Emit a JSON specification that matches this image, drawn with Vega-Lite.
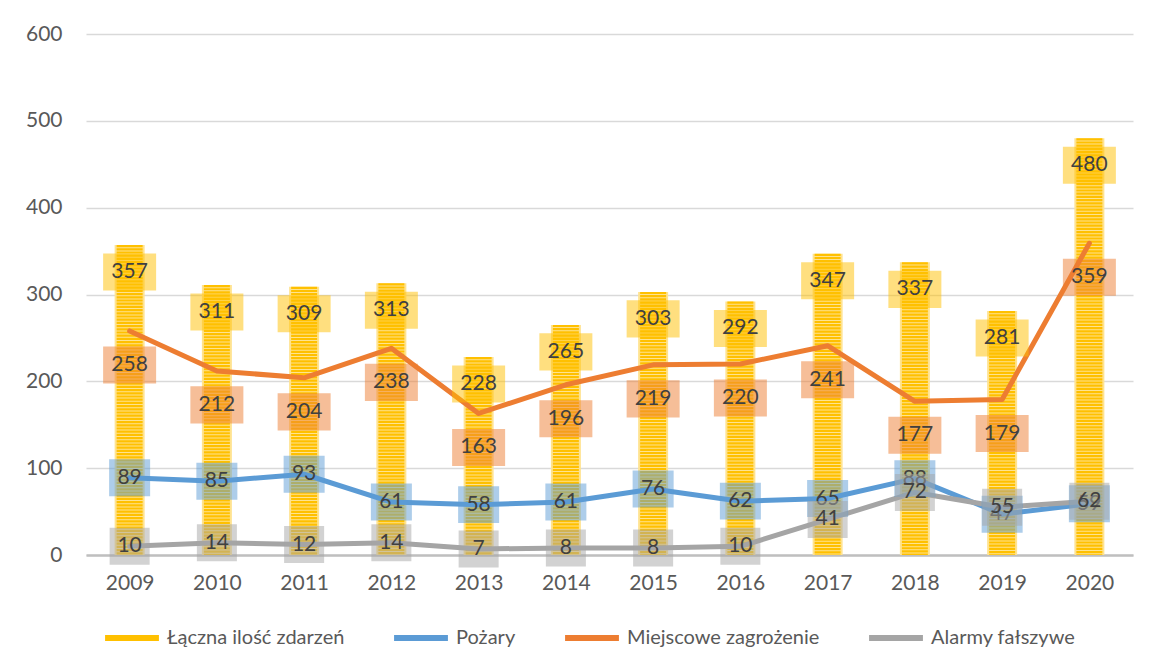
{
  "$schema": "https://vega.github.io/schema/vega-lite/v6.json",
  "width": 1047,
  "height": 521,
  "autosize": {"type": "none"},
  "padding": {"left": 86, "top": 34, "right": 23, "bottom": 117},
  "background": "white",
  "config": {
    "view": {"stroke": null},
    "font": "Lato",
    "axis": {"labelFont": "Lato", "labelFontSize": 21, "labelColor": "#595959"}
  },
  "data": {
    "values": [
      {"year": "2009", "series": "Łączna ilość zdarzeń", "value": 357},
      {"year": "2010", "series": "Łączna ilość zdarzeń", "value": 311},
      {"year": "2011", "series": "Łączna ilość zdarzeń", "value": 309},
      {"year": "2012", "series": "Łączna ilość zdarzeń", "value": 313},
      {"year": "2013", "series": "Łączna ilość zdarzeń", "value": 228},
      {"year": "2014", "series": "Łączna ilość zdarzeń", "value": 265},
      {"year": "2015", "series": "Łączna ilość zdarzeń", "value": 303},
      {"year": "2016", "series": "Łączna ilość zdarzeń", "value": 292},
      {"year": "2017", "series": "Łączna ilość zdarzeń", "value": 347},
      {"year": "2018", "series": "Łączna ilość zdarzeń", "value": 337},
      {"year": "2019", "series": "Łączna ilość zdarzeń", "value": 281},
      {"year": "2020", "series": "Łączna ilość zdarzeń", "value": 480},
      {"year": "2009", "series": "Pożary", "value": 89},
      {"year": "2010", "series": "Pożary", "value": 85},
      {"year": "2011", "series": "Pożary", "value": 93},
      {"year": "2012", "series": "Pożary", "value": 61},
      {"year": "2013", "series": "Pożary", "value": 58},
      {"year": "2014", "series": "Pożary", "value": 61},
      {"year": "2015", "series": "Pożary", "value": 76},
      {"year": "2016", "series": "Pożary", "value": 62},
      {"year": "2017", "series": "Pożary", "value": 65},
      {"year": "2018", "series": "Pożary", "value": 88},
      {"year": "2019", "series": "Pożary", "value": 47},
      {"year": "2020", "series": "Pożary", "value": 59},
      {"year": "2009", "series": "Miejscowe zagrożenie", "value": 258},
      {"year": "2010", "series": "Miejscowe zagrożenie", "value": 212},
      {"year": "2011", "series": "Miejscowe zagrożenie", "value": 204},
      {"year": "2012", "series": "Miejscowe zagrożenie", "value": 238},
      {"year": "2013", "series": "Miejscowe zagrożenie", "value": 163},
      {"year": "2014", "series": "Miejscowe zagrożenie", "value": 196},
      {"year": "2015", "series": "Miejscowe zagrożenie", "value": 219},
      {"year": "2016", "series": "Miejscowe zagrożenie", "value": 220},
      {"year": "2017", "series": "Miejscowe zagrożenie", "value": 241},
      {"year": "2018", "series": "Miejscowe zagrożenie", "value": 177},
      {"year": "2019", "series": "Miejscowe zagrożenie", "value": 179},
      {"year": "2020", "series": "Miejscowe zagrożenie", "value": 359},
      {"year": "2009", "series": "Alarmy fałszywe", "value": 10},
      {"year": "2010", "series": "Alarmy fałszywe", "value": 14},
      {"year": "2011", "series": "Alarmy fałszywe", "value": 12},
      {"year": "2012", "series": "Alarmy fałszywe", "value": 14},
      {"year": "2013", "series": "Alarmy fałszywe", "value": 7},
      {"year": "2014", "series": "Alarmy fałszywe", "value": 8},
      {"year": "2015", "series": "Alarmy fałszywe", "value": 8},
      {"year": "2016", "series": "Alarmy fałszywe", "value": 10},
      {"year": "2017", "series": "Alarmy fałszywe", "value": 41},
      {"year": "2018", "series": "Alarmy fałszywe", "value": 72},
      {"year": "2019", "series": "Alarmy fałszywe", "value": 55},
      {"year": "2020", "series": "Alarmy fałszywe", "value": 62}
    ]
  },
  "encoding": {
    "x": {
      "field": "year", "type": "ordinal",
      "scale": {"type": "point", "padding": 0.5},
      "axis": {"title": null, "labelAngle": 0, "ticks": false, "domainColor": "#BFBFBF", "domainWidth": 2.5, "labelPadding": 17}
    },
    "y": {
      "field": "value", "type": "quantitative",
      "scale": {"domain": [0, 600], "nice": false},
      "axis": {"title": null, "values": [0, 100, 200, 300, 400, 500, 600], "ticks": false, "domain": false, "gridColor": "#D9D9D9", "gridWidth": 1.5, "labelPadding": 24}
    }
  },
  "layer": [
    {
      "transform": [{"filter": "datum.series === 'Łączna ilość zdarzeń'"}],
      "mark": {"type": "bar", "width": 30, "color": "#FFE38F"}
    },
    {
      "transform": [{"filter": "datum.series === 'Łączna ilość zdarzeń'"}],
      "mark": {"type": "rule", "strokeWidth": 26, "color": "#FFC000", "strokeDash": [2.2, 1]},
      "encoding": {"y2": {"datum": 0}}
    },
    {
      "transform": [{"filter": "datum.series !== 'Łączna ilość zdarzeń'"}],
      "mark": {"type": "line", "strokeWidth": 5, "strokeCap": "round", "strokeJoin": "round"},
      "encoding": {
        "color": {
          "field": "series", "type": "nominal",
          "scale": {
            "domain": ["Łączna ilość zdarzeń", "Pożary", "Miejscowe zagrożenie", "Alarmy fałszywe"],
            "range": ["#FFC000", "#5B9BD5", "#ED7D31", "#A5A5A5"]
          },
          "legend": {
            "title": null,
            "orient": "none",
            "legendX": 16,
            "legendY": 574,
            "direction": "horizontal",
            "columnPadding": 37,
            "symbolType": "stroke",
            "symbolSize": 2900,
            "symbolStrokeWidth": 6,
            "labelFont": "Lato",
            "labelFontSize": 20,
            "labelColor": "#595959",
            "labelOffset": 5,
            "labelLimit": 500
          }
        },
        "order": {"field": "year"}
      }
    },
    {
      "transform": [{"filter": "datum.series === 'Łączna ilość zdarzeń'"}],
      "mark": {"type": "point", "shape": "M-1,-0.7H1V0.7H-1Z", "size": 2809, "filled": true, "fill": "#FFC000", "opacity": 0.5, "strokeWidth": 0, "yOffset": 27}
    },
    {
      "transform": [{"filter": "datum.series === 'Łączna ilość zdarzeń'"}],
      "mark": {"type": "text", "fontSize": 21, "font": "Lato", "color": "#404040", "yOffset": 27},
      "encoding": {"text": {"field": "value", "type": "quantitative"}}
    },
    {
      "transform": [{"filter": "datum.series === 'Pożary'"}],
      "mark": {"type": "point", "shape": "M-1,-0.9H1V0.9H-1Z", "size": 1681, "filled": true, "fill": "#5B9BD5", "opacity": 0.5, "strokeWidth": 0}
    },
    {
      "transform": [{"filter": "datum.series === 'Pożary'"}],
      "mark": {"type": "text", "fontSize": 21, "font": "Lato", "color": "#404040"},
      "encoding": {"text": {"field": "value", "type": "quantitative"}}
    },
    {
      "transform": [{"filter": "datum.series === 'Miejscowe zagrożenie'"}],
      "mark": {"type": "point", "shape": "M-1,-0.7H1V0.7H-1Z", "size": 2809, "filled": true, "fill": "#ED7D31", "opacity": 0.5, "strokeWidth": 0, "yOffset": 34}
    },
    {
      "transform": [{"filter": "datum.series === 'Miejscowe zagrożenie'"}],
      "mark": {"type": "text", "fontSize": 21, "font": "Lato", "color": "#404040", "yOffset": 34},
      "encoding": {"text": {"field": "value", "type": "quantitative"}}
    },
    {
      "transform": [{"filter": "datum.series === 'Alarmy fałszywe'"}],
      "mark": {"type": "point", "shape": "M-1,-0.925H1V0.925H-1Z", "size": 1600, "filled": true, "fill": "#A5A5A5", "opacity": 0.5, "strokeWidth": 0}
    },
    {
      "transform": [{"filter": "datum.series === 'Alarmy fałszywe'"}],
      "mark": {"type": "text", "fontSize": 21, "font": "Lato", "color": "#404040"},
      "encoding": {"text": {"field": "value", "type": "quantitative"}}
    }
  ]
}
